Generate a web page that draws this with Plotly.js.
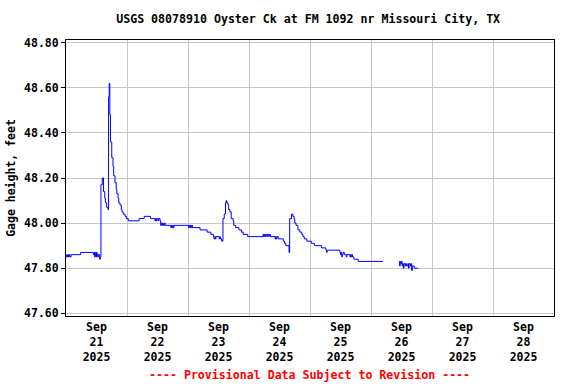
<!DOCTYPE html>
<html>
<head>
<meta charset="utf-8">
<script src="https://cdn.plot.ly/plotly-3.0.1.min.js"></script>
<style>html,body{margin:0;padding:0;background:#fff;}#chart{width:576px;height:384px;}</style>
</head>
<body>
<div id="chart"></div>
<script>
const chartTitle = "USGS 08078910 Oyster Ck at FM 1092 nr Missouri City, TX";
const yAxisTitle = "Gage height, feet";
const footnote = "---- Provisional Data Subject to Revision ----";
const xRange = ["2025-09-21 00:00", "2025-09-29 00:00"];
const yTickVals = [47.6, 47.8, 48.0, 48.2, 48.4, 48.6, 48.8];

const times = [
  "2025-09-21 00:00","2025-09-21 00:15","2025-09-21 00:30","2025-09-21 00:45","2025-09-21 01:00","2025-09-21 01:15","2025-09-21 01:30","2025-09-21 02:00",
  "2025-09-21 05:45","2025-09-21 10:45","2025-09-21 11:00","2025-09-21 11:15","2025-09-21 11:30","2025-09-21 11:45","2025-09-21 12:00","2025-09-21 12:15",
  "2025-09-21 12:30","2025-09-21 12:45","2025-09-21 13:15","2025-09-21 13:30","2025-09-21 13:45","2025-09-21 14:15","2025-09-21 14:45","2025-09-21 15:15",
  "2025-09-21 15:30","2025-09-21 16:00","2025-09-21 16:30","2025-09-21 16:45","2025-09-21 17:00","2025-09-21 17:15","2025-09-21 17:30","2025-09-21 18:00",
  "2025-09-21 18:30","2025-09-21 18:45","2025-09-21 19:15","2025-09-21 19:45","2025-09-21 20:00","2025-09-21 20:30","2025-09-21 20:45","2025-09-21 21:15",
  "2025-09-21 21:45","2025-09-21 22:00","2025-09-21 22:30","2025-09-21 23:15","2025-09-21 23:45",
  "2025-09-22 00:30","2025-09-22 04:45","2025-09-22 06:45","2025-09-22 09:15","2025-09-22 11:00","2025-09-22 11:15","2025-09-22 11:30","2025-09-22 11:45",
  "2025-09-22 12:15","2025-09-22 12:30","2025-09-22 13:00","2025-09-22 13:15","2025-09-22 13:30","2025-09-22 13:45","2025-09-22 14:00","2025-09-22 14:15",
  "2025-09-22 14:45","2025-09-22 15:00","2025-09-22 17:15","2025-09-22 17:30","2025-09-22 17:45","2025-09-22 18:00","2025-09-22 18:15","2025-09-22 18:30",
  "2025-09-23 00:15","2025-09-23 00:30","2025-09-23 00:45","2025-09-23 01:00","2025-09-23 01:15","2025-09-23 01:30","2025-09-23 01:45",
  "2025-09-23 04:45","2025-09-23 07:30","2025-09-23 09:00","2025-09-23 10:00","2025-09-23 10:15","2025-09-23 10:30","2025-09-23 10:45","2025-09-23 11:00",
  "2025-09-23 12:15","2025-09-23 12:30","2025-09-23 12:45","2025-09-23 13:15","2025-09-23 13:45","2025-09-23 14:15","2025-09-23 14:45","2025-09-23 15:00",
  "2025-09-23 15:15","2025-09-23 15:45","2025-09-23 16:00","2025-09-23 16:30","2025-09-23 17:00","2025-09-23 17:45","2025-09-23 18:00","2025-09-23 18:45",
  "2025-09-23 20:00","2025-09-23 21:00","2025-09-23 21:45","2025-09-23 23:30",
  "2025-09-24 05:30","2025-09-24 05:45","2025-09-24 06:00","2025-09-24 06:15","2025-09-24 06:30","2025-09-24 07:00","2025-09-24 07:15","2025-09-24 07:45",
  "2025-09-24 08:00","2025-09-24 08:30","2025-09-24 10:15","2025-09-24 10:30","2025-09-24 10:45","2025-09-24 11:00","2025-09-24 11:30","2025-09-24 13:30",
  "2025-09-24 14:00","2025-09-24 14:30","2025-09-24 15:45","2025-09-24 16:00","2025-09-24 16:45","2025-09-24 17:15","2025-09-24 17:45","2025-09-24 18:00",
  "2025-09-24 18:30","2025-09-24 19:15","2025-09-24 20:00","2025-09-24 20:45","2025-09-24 21:15","2025-09-24 21:45","2025-09-24 22:45",
  "2025-09-25 00:30","2025-09-25 01:45","2025-09-25 04:30","2025-09-25 06:15","2025-09-25 06:30","2025-09-25 06:45","2025-09-25 11:45","2025-09-25 12:00",
  "2025-09-25 12:15","2025-09-25 12:30","2025-09-25 12:45","2025-09-25 13:00","2025-09-25 13:30","2025-09-25 14:15","2025-09-25 14:30","2025-09-25 15:45",
  "2025-09-25 16:00","2025-09-25 16:15","2025-09-25 16:30","2025-09-25 16:45","2025-09-25 17:15","2025-09-25 19:00",
  "2025-09-26 04:45","2025-09-26 05:00",
  "2025-09-26 11:00","2025-09-26 11:15","2025-09-26 11:30","2025-09-26 11:45","2025-09-26 12:00","2025-09-26 12:15","2025-09-26 12:30","2025-09-26 12:45",
  "2025-09-26 13:00","2025-09-26 13:30","2025-09-26 13:45","2025-09-26 14:00","2025-09-26 14:30","2025-09-26 14:45","2025-09-26 15:00","2025-09-26 15:30",
  "2025-09-26 15:45","2025-09-26 16:00","2025-09-26 16:15","2025-09-26 16:45","2025-09-26 17:00","2025-09-26 18:30"
];
const gageHeight = [
  47.85,47.86,47.85,47.86,47.85,47.86,47.85,47.86,
  47.87,47.86,47.87,47.85,47.87,47.85,47.87,47.86,
  47.85,47.86,47.84,47.85,48.17,48.20,48.14,48.11,
  48.09,48.07,48.06,48.56,48.62,48.48,48.36,48.29,
  48.25,48.21,48.18,48.15,48.13,48.11,48.09,48.08,
  48.06,48.05,48.04,48.03,48.02,
  48.01,48.02,48.03,48.02,48.01,48.02,48.01,48.02,
  48.01,48.02,48.01,47.99,48.00,47.99,48.00,47.99,
  48.00,47.99,47.98,47.99,47.98,47.99,47.98,47.99,
  47.98,47.99,47.98,47.99,47.98,47.99,47.98,
  47.97,47.96,47.95,47.94,47.93,47.94,47.93,47.94,
  47.93,47.94,47.93,47.92,48.02,48.04,48.09,48.10,
  48.09,48.08,48.06,48.05,48.02,48.01,47.99,47.98,
  47.97,47.96,47.95,47.94,
  47.95,47.94,47.95,47.94,47.95,47.94,47.95,47.94,
  47.95,47.94,47.93,47.94,47.93,47.94,47.93,47.92,
  47.91,47.90,47.87,48.02,48.04,48.03,48.02,48.00,
  47.99,47.97,47.96,47.95,47.94,47.93,47.92,
  47.91,47.90,47.89,47.88,47.87,47.88,47.87,47.86,
  47.87,47.85,47.86,47.87,47.86,47.85,47.86,47.85,
  47.86,47.85,47.86,47.85,47.84,47.83,
  47.83,null,
  47.83,47.81,47.83,47.82,47.83,47.81,47.82,47.80,
  47.82,47.81,47.82,47.81,47.82,47.80,47.82,47.81,
  47.82,47.79,47.81,47.81,47.80,47.80
];

const monoFont = "DejaVu Sans Mono, Liberation Mono, monospace";

const trace = {
  x: times,
  y: gageHeight,
  type: "scatter",
  mode: "lines",
  line: {color: "#0000ff", width: 1, shape: "hv"},
  connectgaps: false,
  hoverinfo: "skip"
};

const layout = {
  width: 576,
  height: 384,
  margin: {l: 66, r: 22, t: 40, b: 68},
  paper_bgcolor: "#ffffff",
  plot_bgcolor: "#ffffff",
  showlegend: false,
  font: {family: monoFont, size: 11.5, color: "#000000", weight: "bold"},
  title: {
    text: chartTitle,
    font: {family: monoFont, size: 11.6, color: "#000000", weight: "bold"},
    x: 0.535, xanchor: "center", y: 0.95, yanchor: "middle"
  },
  xaxis: {
    type: "date",
    range: xRange,
    tick0: "2025-09-21",
    dtick: 86400000,
    ticklabelmode: "period",
    tickformat: "%b<br>%d<br>%Y",
    ticks: "",
    showgrid: true,
    gridcolor: "#c8c8c8",
    gridwidth: 1,
    showline: true,
    mirror: true,
    linecolor: "#000000",
    linewidth: 1,
    zeroline: false,
    tickfont: {family: monoFont, size: 11.5, color: "#000000", weight: "bold"}
  },
  yaxis: {
    range: [47.588, 48.812],
    tickvals: yTickVals,
    tickformat: ".2f",
    ticks: "outside",
    ticklen: 4,
    tickcolor: "#000000",
    showgrid: true,
    gridcolor: "#c8c8c8",
    gridwidth: 1,
    showline: true,
    mirror: true,
    linecolor: "#000000",
    linewidth: 1,
    zeroline: false,
    tickfont: {family: monoFont, size: 11.5, color: "#000000", weight: "bold"},
    title: {text: yAxisTitle, font: {family: monoFont, size: 11.5, color: "#000000", weight: "bold"}, standoff: 6}
  },
  annotations: [{
    text: footnote,
    xref: "paper", yref: "paper",
    x: 0.498, y: -0.214,
    xanchor: "center", yanchor: "middle",
    showarrow: false,
    font: {family: monoFont, size: 11.6, color: "#ff0000", weight: "bold"}
  }]
};

Plotly.newPlot("chart", [trace], layout, {staticPlot: true, displayModeBar: false});
</script>
</body>
</html>
